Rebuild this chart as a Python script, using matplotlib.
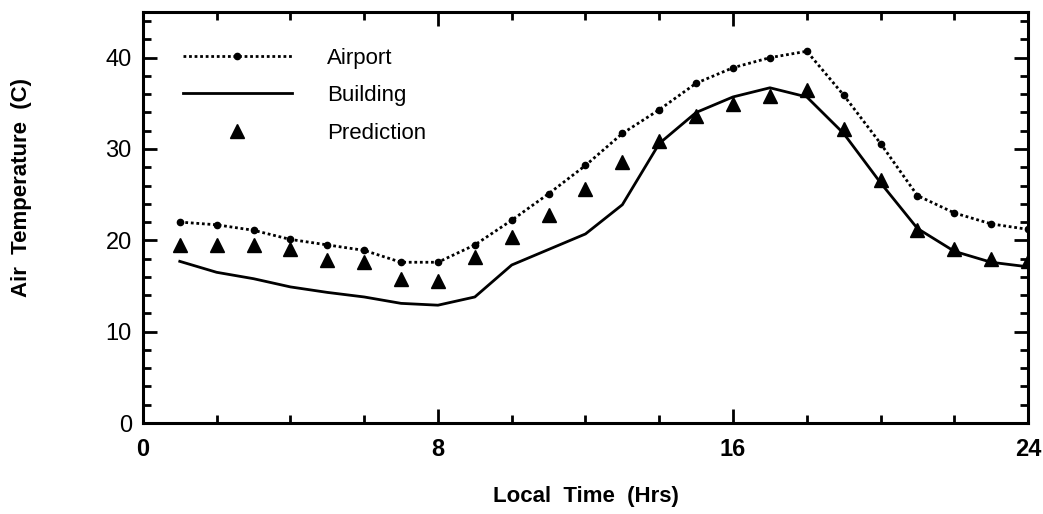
import matplotlib
matplotlib.use("Agg")
import matplotlib.pyplot as plt
import numpy as np
from matplotlib.ticker import MultipleLocator

plt.rcParams['font.family'] = ['Liberation Sans', 'DejaVu Sans']

# data
hours = list(range(1, 25))
airport = [22.0, 21.7, 21.1, 20.1, 19.5, 18.9, 17.6, 17.6,
           19.5, 22.2, 25.1, 28.2, 31.7, 34.3, 37.2, 38.9,
           40.0, 40.7, 35.9, 30.6, 24.9, 23.0, 21.8, 21.2]
building = [17.7, 16.5, 15.8, 14.9, 14.3, 13.8, 13.1, 12.9,
            13.8, 17.3, 19.0, 20.7, 23.9, 30.6, 34.0, 35.7,
            36.7, 35.7, 31.7, 26.3, 21.3, 18.8, 17.6, 17.1]
prediction = [19.5, 19.5, 19.5, 19.1, 17.8, 17.6, 15.8, 15.5,
              18.2, 20.4, 22.8, 25.6, 28.6, 30.9, 33.6, 34.9,
              35.8, 36.5, 32.2, 26.6, 21.1, 19.1, 18.0, 17.7]

fig = plt.figure(figsize=(10.43, 5.14), dpi=100)
ax = fig.add_axes([0.137, 0.177, 0.8487, 0.7997])

ax.plot(hours, airport, color='black', linestyle=(0, (1, 1)), linewidth=2.0,
        marker='o', markersize=4.5, label='Airport')
ax.plot(hours, building, color='black', linewidth=2.0, label='Building')
ax.plot(hours, prediction, color='black', linestyle='none', marker='^',
        markersize=10, label='Prediction')

ax.set_xlim(0, 24)
ax.set_ylim(0, 45)
ax.xaxis.set_major_locator(MultipleLocator(8))
ax.xaxis.set_minor_locator(MultipleLocator(2))
ax.yaxis.set_major_locator(MultipleLocator(10))
ax.yaxis.set_minor_locator(MultipleLocator(2))

for s in ax.spines.values():
    s.set_linewidth(2.2)
ax.tick_params(which='both', direction='in', top=True, right=True, width=2)
ax.tick_params(which='major', length=10)
ax.tick_params(which='minor', length=6)
ax.tick_params(axis='y', labelsize=17, pad=8)
ax.tick_params(axis='x', labelsize=17, pad=11)
for lab in ax.get_xticklabels():
    lab.set_weight('bold')

ax.set_xlabel('Local  Time  (Hrs)', fontsize=16, fontweight='bold', labelpad=18)
fig.text(0.021, 0.635, 'Air  Temperature  (C)', rotation=90, fontsize=16,
         fontweight='bold', ha='center', va='center')

leg = ax.legend(loc='upper left', frameon=False, fontsize=16, numpoints=1,
                handlelength=4.9, handletextpad=1.6, labelspacing=0.75,
                borderaxespad=0.0, bbox_to_anchor=(0.035, 0.935))

fig.savefig('out.png', dpi=100)
